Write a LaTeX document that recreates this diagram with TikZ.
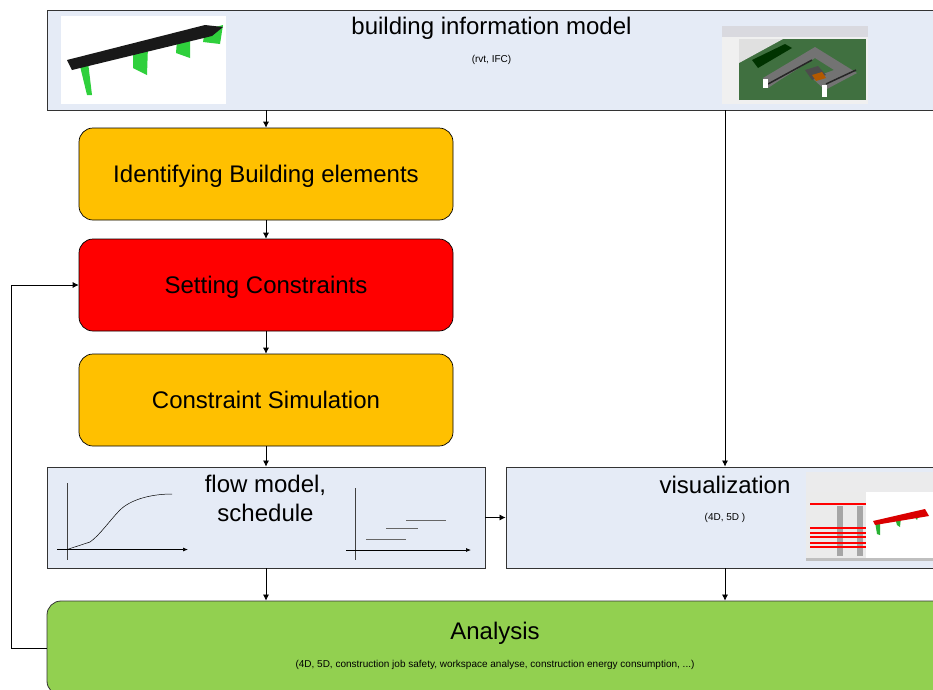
\documentclass[tikz,border=0pt]{standalone}
\usepackage{fontspec}
\setmainfont{Liberation Sans}
\usetikzlibrary{arrows.meta}
\definecolor{panelblue}{HTML}{E5EBF6}
\definecolor{stepamber}{HTML}{FFC000}
\definecolor{leafgreen}{HTML}{92D050}
\definecolor{memberlime}{HTML}{2FD03C}
\tikzset{
  panel/.style={draw=black!80, line width=.9pt, fill=panelblue, inner sep=0pt},
  stepbox/.style={draw=black, line width=.7pt, rounded corners=14pt, minimum width=374pt, minimum height=92pt, inner sep=0pt, text height=18pt, text depth=2pt, font=\fontsize{24}{28}\selectfont},
  bigtext/.style={inner sep=0pt, align=center, font=\fontsize{24}{29}\selectfont},
  smalltext/.style={inner sep=0pt, font=\fontsize{10}{12}\selectfont},
  link/.style={draw=black, line width=.7pt, -{Latex[length=6pt,width=6pt]}},
  axis/.style={draw=black!75, line width=.7pt},
  axisarrow/.style={draw=black, line width=.7pt, -{Latex[length=5pt,width=4pt]}},
  taskbar/.style={draw=black!60, line width=1pt}
}
\begin{document}
\begin{tikzpicture}[x=1pt, y=-1pt]
  \useasboundingbox (0,0) rectangle (933,689);
  \clip (0,0) rectangle (933,689);
  \node[panel, minimum width=903pt, minimum height=100pt] (bim) at (498.5,60) {};
  \node[stepbox, fill=stepamber] (identify) at (266,174) {Identifying Building elements};
  \node[stepbox, fill=red] (constraints) at (266,285) {Setting Constraints};
  \node[stepbox, fill=stepamber] (simulation) at (266,400) {Constraint Simulation};
  \node[panel, minimum width=438pt, minimum height=101pt] (flow) at (266,517.5) {};
  \node[panel, minimum width=438pt, minimum height=101pt] (vis) at (725,517.5) {};
  \node[draw=black!80, line width=.8pt, fill=leafgreen, rounded corners=14pt, inner sep=0pt, minimum width=903pt, minimum height=94pt] (analysis) at (498.5,648) {};

  \node[bigtext] (bimtitle) at (491.5,28.5) {building information model};
  \node[smalltext] (bimnote) at (491.5,60) {(rvt, IFC)};
  \node[bigtext] (flowtitle) at (265.5,498.5) {flow model,\\schedule};
  \node[bigtext] (vistitle) at (725,485) {visualization};
  \node[smalltext] (visnote) at (725,518) {(4D, 5D )};
  \node[bigtext] (analysistitle) at (495,633.5) {Analysis};
  \node[smalltext] (analysisnote) at (495,665) {(4D, 5D, construction job safety, workspace analyse, construction energy consumption, ...)};

  \draw[link] (identify.north |- bim.south) -- (identify.north);
  \draw[link] (identify) -- (constraints);
  \draw[link] (constraints) -- (simulation);
  \draw[link] (simulation) -- (flow);
  \draw[link] (vis.north |- bim.south) -- (vis.north);
  \draw[link] (flow) -- (vis);
  \draw[link] (flow) -- (flow.south |- analysis.north);
  \draw[link] (vis) -- (vis.south |- analysis.north);
  \draw[link] (analysis.west) -- (11,648) |- (constraints.west);

  \fill[white] (61,16) rectangle (226,104);
  \fill[memberlime] (79,62) -- (88,62) -- (92,95) -- (87,95) -- cycle;
  \fill[memberlime] (133,50) -- (148,46) -- (147,75) -- (133,68) -- cycle;
  \fill[memberlime] (177,40) -- (190,36) -- (190,58) -- (176,53) -- cycle;
  \fill[memberlime] (205,30) -- (223,25) -- (220,44) -- (203,42) -- cycle;
  \fill[black!90] (67,60) -- (205,25) -- (223,27) -- (212,36) -- (72,70) -- cycle;

  \fill[black!6] (722,26) rectangle (868,104);
  \fill[blue!15!black!15] (722,26) rectangle (868,37);
  \fill[green!25!black!75] (739,39) rectangle (866,100);
  \fill[black!12] (739,39) -- (783,39) -- (739,63) -- cycle;
  \fill[black!80!green] (752,60) -- (785,44) -- (792,48) -- (758,68) -- cycle;
  \fill[black!55] (763,78) -- (815,47) -- (857,73) -- (825,90) -- (812,78) -- (834,70) -- (815,58) -- (780,80) -- (768,88) -- cycle;
  \draw[black!85, line width=1.5pt] (768,84) -- (812,60);
  \draw[black!85, line width=1.5pt] (826,84) -- (856,70);
  \fill[black!70] (805,70) -- (818,66) -- (826,75) -- (812,80) -- cycle;
  \fill[orange!70!black] (812,75) -- (822,72) -- (826,78) -- (816,81) -- cycle;
  \fill[white] (763,79) rectangle (768,88);
  \fill[white] (822,85) rectangle (827,97);

  \draw[axis] (67,483) -- (67,560);
  \draw[axisarrow] (57,549.5) -- (188,549.5);
  \draw[black, line width=.5pt] (67,549.5) -- (90,542) .. controls (100,535) and (110,520) .. (120,510) .. controls (130,500) and (150,494) .. (172,494);
  \draw[axis] (355,488) -- (355,560);
  \draw[axisarrow] (346,550) -- (471,550);
  \draw[taskbar] (366,539.5) -- (406,539.5);
  \draw[taskbar] (386,528) -- (418,528);
  \draw[taskbar] (406,520) -- (446,520);

  \fill[white] (806,472) rectangle (933,561);
  \fill[blue!8!black!8] (806,472) rectangle (933,492);
  \fill[black!25] (806,558) rectangle (933,561);
  \fill[black!8] (806,492) rectangle (866,558);
  \fill[black!35] (837,506) rectangle (843,556);
  \fill[black!35] (857,506) rectangle (863,556);
  \foreach \rowy in {504,528,533,537,543,547} {
    \fill[red] (810,\rowy-1.2) rectangle (866,\rowy+1.2);
  }
  \fill[memberlime!85!black] (875,522) -- (880,521) -- (880,535) -- (877,534) -- cycle;
  \fill[memberlime!85!black] (895,518) -- (901,517) -- (900,527) -- (897,525) -- cycle;
  \fill[memberlime!85!black] (913,515) -- (919,514) -- (917,520) -- cycle;
  \fill[red!85!black] (873,521) -- (925,509) -- (929,516) -- (875,525) -- cycle;
\end{tikzpicture}
\end{document}
